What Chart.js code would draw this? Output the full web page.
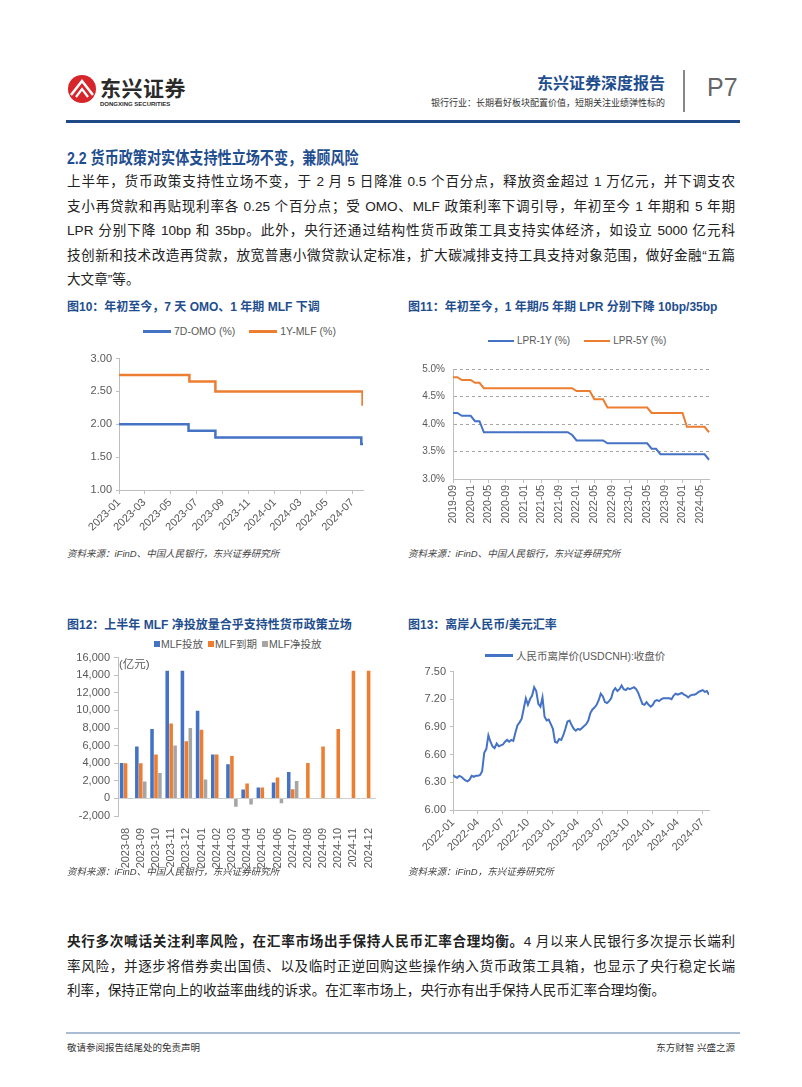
<!DOCTYPE html>
<html lang="zh-CN">
<head>
<meta charset="utf-8">
<script src="https://cdn.jsdelivr.net/npm/chart.js@4.4.0/dist/chart.umd.min.js"></script>
<style>
  body { margin:0; background:#fff; width:802px; height:1087px; position:relative; overflow:hidden;
         font-family:"Liberation Sans","Noto Sans CJK SC",sans-serif; color:#222; }
  .abs { position:absolute; white-space:nowrap; }
  .blue { color:#1f4e8f; }
  .ftitle { font-size:12px; font-weight:bold; color:#1f4e8f; }
  .src { font-size:9.5px; font-style:italic; color:#444; }
  .para { left:67px; width:668px; font-size:13.6px; line-height:24.5px; color:#222; }
  .para div { white-space:nowrap; }
  .jl { text-align:justify; text-align-last:justify; }
  .lg { font-size:10.5px; color:#595959; display:flex; align-items:center; }
  .ln { display:inline-block; width:28px; height:3px; margin-right:3px; }
  .sq { display:inline-block; width:6px; height:6px; margin-right:1px; }
  canvas { position:absolute; }
</style>
</head>
<body>

<!-- header -->
<svg class="abs" style="left:67px;top:74px" width="30" height="30" viewBox="0 0 30 30">
  <circle cx="15" cy="15" r="14" fill="#d7262b"/>
  <path d="M4 21 L15 7 L26 21" stroke="#fff" stroke-width="2.6" fill="none"/>
  <path d="M9 23 L15 15 L21 23" stroke="#fff" stroke-width="2.2" fill="none"/>
</svg>
<div class="abs" style="left:100px;top:72px;font-size:21px;font-weight:bold;color:#2a2a2a;letter-spacing:0.5px">东兴证券</div>
<div class="abs" style="left:100px;top:101px;font-size:6px;font-weight:bold;color:#2a2a2a">DONGXING SECURITIES</div>
<div class="abs blue" style="right:137px;top:70px;font-size:16px;font-weight:bold">东兴证券深度报告</div>
<div class="abs" style="right:137px;top:96px;font-size:9px;color:#333">银行行业：长期看好板块配置价值，短期关注业绩弹性标的</div>
<div class="abs" style="left:683px;top:70px;width:1.5px;height:42px;background:#888"></div>
<div class="abs" style="left:707px;top:73px;font-size:25px;color:#666">P7</div>
<div class="abs" style="left:66px;top:120px;width:674px;height:3px;background:#1f4a87"></div>

<!-- section -->
<div class="abs blue" style="left:67px;top:144px;font-size:17px;font-weight:bold;transform:scaleX(0.83);transform-origin:left top">2.2 货币政策对实体支持性立场不变，兼顾风险</div>
<div class="abs para" style="top:170px">
  <div class="jl">上半年，货币政策支持性立场不变，于 2 月 5 日降准 0.5 个百分点，释放资金超过 1 万亿元，并下调支农</div>
  <div class="jl">支小再贷款和再贴现利率各 0.25 个百分点；受 OMO、MLF 政策利率下调引导，年初至今 1 年期和 5 年期</div>
  <div class="jl">LPR 分别下降 10bp 和 35bp。此外，央行还通过结构性货币政策工具支持实体经济，如设立 5000 亿元科</div>
  <div class="jl">技创新和技术改造再贷款，放宽普惠小微贷款认定标准，扩大碳减排支持工具支持对象范围，做好金融“五篇</div>
  <div>大文章”等。</div>
</div>

<!-- chart titles row 1 -->
<div class="abs ftitle" style="left:67px;top:297px">图10：年初至今，7 天 OMO、1 年期 MLF 下调</div>
<div class="abs ftitle" style="left:408px;top:297px">图11：年初至今，1 年期/5 年期 LPR 分别下降 10bp/35bp</div>

<div class="abs lg" style="left:143px;top:325px"><span class="ln" style="background:#4472c4"></span>7D-OMO (%)<span class="ln" style="background:#ed7d31;margin-left:14px"></span>1Y-MLF (%)</div>
<div class="abs lg" style="left:488px;top:335px;font-size:10px"><span class="ln" style="background:#4472c4;height:2px;width:26px"></span>LPR-1Y (%)<span class="ln" style="background:#ed7d31;height:2px;width:26px;margin-left:14px"></span>LPR-5Y (%)</div>

<canvas id="c10" width="307" height="197" style="left:62px;top:348px"></canvas>
<canvas id="c11" width="315" height="170" style="left:400px;top:355px"></canvas>

<div class="abs src" style="left:67px;top:546px">资料来源：iFinD、中国人民银行，东兴证券研究所</div>
<div class="abs src" style="left:408px;top:546px">资料来源：iFinD、中国人民银行，东兴证券研究所</div>

<!-- chart titles row 2 -->
<div class="abs ftitle" style="left:67px;top:615px">图12：上半年 MLF 净投放量合乎支持性货币政策立场</div>
<div class="abs ftitle" style="left:408px;top:615px">图13：离岸人民币/美元汇率</div>

<div class="abs lg" style="left:154px;top:636px"><span class="sq" style="background:#4472c4"></span>MLF投放<span class="sq" style="background:#ed7d31;margin-left:5px"></span>MLF到期<span class="sq" style="background:#a5a5a5;margin-left:5px"></span>MLF净投放</div>
<div class="abs lg" style="left:485px;top:648px"><span class="ln" style="background:#4472c4;height:2.5px"></span>人民币离岸价(USDCNH):收盘价</div>

<canvas id="c12" width="324" height="225" style="left:62px;top:647px"></canvas>
<canvas id="c13" width="315" height="203" style="left:400px;top:661px"></canvas>
<div class="abs" style="left:119px;top:655px;font-size:11.5px;color:#595959">(亿元)</div>

<div class="abs src" style="left:67px;top:864px">资料来源：iFinD、中国人民银行，东兴证券研究所</div>
<div class="abs src" style="left:408px;top:864px">资料来源：iFinD，东兴证券研究所</div>

<!-- bottom paragraph -->
<div class="abs para" style="top:930px">
  <div class="jl"><b>央行多次喊话关注利率风险，在汇率市场出手保持人民币汇率合理均衡。</b>4 月以来人民银行多次提示长端利</div>
  <div class="jl">率风险，并逐步将借券卖出国债、以及临时正逆回购这些操作纳入货币政策工具箱，也显示了央行稳定长端</div>
  <div>利率，保持正常向上的收益率曲线的诉求。在汇率市场上，央行亦有出手保持人民币汇率合理均衡。</div>
</div>

<!-- footer -->
<div class="abs" style="left:66px;top:1032px;width:674px;height:2px;background:#a8bdd3"></div>
<div class="abs" style="left:67px;top:1040px;font-size:9.5px;color:#333">敬请参阅报告结尾处的免责声明</div>
<div class="abs" style="right:67px;top:1040px;font-size:9.5px;color:#333">东方财智 兴盛之源</div>

<script>
// ---- 图10: 7D OMO / 1Y MLF (%) ----
const omoDates = ['2023-01-01', '2023-06-13', '2023-08-15', '2024-07-22', '2024-07-26'];
const omoValues = [2.00, 1.90, 1.80, 1.70, 1.70];
const mlfDates = ['2023-01-01', '2023-06-15', '2023-08-15', '2024-07-25', '2024-07-26'];
const mlfValues = [2.75, 2.65, 2.50, 2.30, 2.30];
const fig10Ticks = ['2023-01', '2023-03', '2023-05', '2023-07', '2023-09', '2023-11', '2024-01', '2024-03', '2024-05', '2024-07'];

// ---- 图11: LPR monthly (%) ----
const lprStart = '2019-09', lprEnd = '2024-07';
const lpr1Y = [4.20, 4.20, 4.15, 4.15,
  4.15, 4.05, 4.05, 3.85, 3.85, 3.85, 3.85, 3.85, 3.85, 3.85, 3.85, 3.85,
  3.85, 3.85, 3.85, 3.85, 3.85, 3.85, 3.85, 3.85, 3.85, 3.85, 3.85, 3.80,
  3.70, 3.70, 3.70, 3.70, 3.70, 3.70, 3.70, 3.65, 3.65, 3.65, 3.65, 3.65,
  3.65, 3.65, 3.65, 3.65, 3.65, 3.55, 3.55, 3.45, 3.45, 3.45, 3.45, 3.45,
  3.45, 3.45, 3.45, 3.45, 3.45, 3.45, 3.35];
const lpr5Y = [4.85, 4.85, 4.80, 4.80,
  4.80, 4.75, 4.75, 4.65, 4.65, 4.65, 4.65, 4.65, 4.65, 4.65, 4.65, 4.65,
  4.65, 4.65, 4.65, 4.65, 4.65, 4.65, 4.65, 4.65, 4.65, 4.65, 4.65, 4.65,
  4.60, 4.60, 4.60, 4.60, 4.45, 4.45, 4.45, 4.30, 4.30, 4.30, 4.30, 4.30,
  4.30, 4.30, 4.30, 4.30, 4.30, 4.20, 4.20, 4.20, 4.20, 4.20, 4.20, 4.20,
  4.20, 3.95, 3.95, 3.95, 3.95, 3.95, 3.85];

// ---- 图12: MLF (亿元) ----
const mlfMonths = ['2023-08', '2023-09', '2023-10', '2023-11', '2023-12', '2024-01', '2024-02', '2024-03', '2024-04',
  '2024-05', '2024-06', '2024-07', '2024-08', '2024-09', '2024-10', '2024-11', '2024-12'];
const mlfInject = [4010, 5910, 7890, 14500, 14500, 9950, 5000, 3870, 1000, 1250, 1820, 3000, null, null, null, null, null];
const mlfMature = [4000, 4000, 5000, 8500, 6500, 7790, 4990, 4810, 1700, 1250, 2370, 1030, 4010, 5910, 7890, 14500, 14500];
const mlfNet = [10, 1910, 2890, 6000, 8000, 2160, 10, -940, -700, 0, -550, 1970, null, null, null, null, null];

// ---- 图13: USDCNH close, 4 readings per month ----
const fxStart = '2022-01';
const fxClose = [
  6.38, 6.36, 6.35, 6.37,  6.36, 6.34, 6.32, 6.31,  6.33, 6.37, 6.36, 6.37,  6.37, 6.38, 6.42, 6.62,
  6.66, 6.81, 6.74, 6.69,  6.67, 6.72, 6.69, 6.70,  6.71, 6.74, 6.76, 6.74,  6.76, 6.75, 6.84, 6.92,
  6.95, 6.99, 7.10, 7.21,  7.14, 7.20, 7.24, 7.33,  7.29, 7.15, 7.12, 7.22,  7.01, 6.97, 6.98, 6.93,
  6.88, 6.74, 6.73, 6.77,  6.76, 6.81, 6.88, 6.96,  6.97, 6.92, 6.88, 6.86,  6.88, 6.87, 6.89, 6.91,
  6.93, 6.97, 7.05, 7.09,  7.11, 7.14, 7.19, 7.26,  7.23, 7.17, 7.16, 7.18,  7.21, 7.29, 7.32, 7.29,
  7.31, 7.35, 7.31, 7.30,  7.32, 7.31, 7.32, 7.33,  7.31, 7.27, 7.21, 7.15,  7.14, 7.17, 7.14, 7.12,
  7.14, 7.18, 7.19, 7.18,  7.20, 7.21, 7.21, 7.21,  7.21, 7.20, 7.24, 7.26,  7.25, 7.26, 7.27, 7.25,
  7.24, 7.22, 7.24, 7.25,  7.25, 7.26, 7.28, 7.29,  7.30, 7.28, 7.29, 7.25];
const fxTicks = ['2022-01', '2022-04', '2022-07', '2022-10', '2023-01', '2023-04', '2023-07', '2023-10', '2024-01', '2024-04', '2024-07'];

// ---- helpers ----
const BLUE = '#4472c4', ORANGE = '#ed7d31', GREY = '#a5a5a5', AXIS = '#bfbfbf';
Chart.defaults.font.family = "'Liberation Sans','Noto Sans CJK SC',sans-serif";
Chart.defaults.font.size = 11;
Chart.defaults.color = '#595959';
Chart.defaults.animation = false;
Chart.defaults.plugins.legend.display = false;
Chart.defaults.plugins.tooltip.enabled = false;

const dayOf = s => {
  const [y, m, d] = s.split('-').map(Number);
  return (Date.UTC(y, m - 1, d || 1) - Date.UTC(2023, 0, 1)) / 864e5;
};
const monthOf = (s, base) => {
  const [y, m] = s.split('-').map(Number), [by, bm] = base.split('-').map(Number);
  return (y - by) * 12 + (m - bm);
};
const monthRange = (a, b) => {
  const out = [];
  for (let i = 0; i <= monthOf(b, a); i++) {
    const [y, m] = a.split('-').map(Number);
    const t = y * 12 + m - 1 + i;
    out.push(Math.floor(t / 12) + '-' + String(t % 12 + 1).padStart(2, '0'));
  }
  return out;
};
const lprMonths = monthRange(lprStart, lprEnd);

// 图10
new Chart(document.getElementById('c10'), {
  type: 'line',
  data: {
    datasets: [
      { label: '7D-OMO (%)', data: omoDates.map((d, i) => ({ x: dayOf(d), y: omoValues[i] })),
        borderColor: BLUE, borderWidth: 2.5, pointRadius: 0, stepped: true },
      { label: '1Y-MLF (%)', data: mlfDates.map((d, i) => ({ x: dayOf(d), y: mlfValues[i] })),
        borderColor: ORANGE, borderWidth: 2.5, pointRadius: 0, stepped: true }
    ]
  },
  options: {
    responsive: false,
    layout: { padding: { top: 0, right: 6, left: 0, bottom: 0 } },
    scales: {
      x: {
        type: 'linear', min: 0, max: dayOf('2024-07-26'),
        afterBuildTicks: a => { a.ticks = fig10Ticks.map(t => ({ value: dayOf(t) })); },
        ticks: { callback: (v, i) => fig10Ticks[i], minRotation: 45, maxRotation: 45, autoSkip: false, padding: 2 },
        grid: { drawOnChartArea: false, tickLength: 4, tickColor: AXIS },
        border: { color: AXIS },
        afterFit: s => { s.height = 55; }
      },
      y: {
        min: 1, max: 3,
        ticks: { stepSize: 0.5, callback: v => v.toFixed(2), padding: 4 },
        grid: { drawOnChartArea: false, tickLength: 3, tickColor: AXIS },
        border: { color: AXIS },
        afterFit: s => { s.width = 57; }
      }
    }
  }
});

// 图11
new Chart(document.getElementById('c11'), {
  type: 'line',
  data: {
    labels: lprMonths,
    datasets: [
      { label: 'LPR-1Y (%)', data: lpr1Y, borderColor: BLUE, borderWidth: 2, pointRadius: 0 },
      { label: 'LPR-5Y (%)', data: lpr5Y, borderColor: ORANGE, borderWidth: 2, pointRadius: 0 }
    ]
  },
  options: {
    responsive: false,
    layout: { padding: { top: 0, right: 6, left: 0, bottom: 0 } },
    scales: {
      x: {
        afterBuildTicks: a => { a.ticks = a.ticks.filter((t, i) => i % 4 === 0); },
        ticks: { minRotation: 90, maxRotation: 90, autoSkip: false, padding: 2, font: { size: 10.5 } },
        grid: { drawOnChartArea: false, tickLength: 4, tickColor: AXIS },
        border: { color: AXIS },
        afterFit: s => { s.height = 46; }
      },
      y: {
        min: 3, max: 5,
        ticks: { stepSize: 0.5, callback: v => v.toFixed(1) + '%', padding: 8, font: { size: 10 } },
        grid: { color: '#a6a6a6', drawTicks: false },
        border: { color: AXIS, dash: [3, 3] },
        afterFit: s => { s.width = 53; }
      }
    }
  }
});

// 图12
new Chart(document.getElementById('c12'), {
  type: 'bar',
  data: {
    labels: mlfMonths,
    datasets: [
      { label: 'MLF投放', data: mlfInject, backgroundColor: BLUE },
      { label: 'MLF到期', data: mlfMature, backgroundColor: ORANGE },
      { label: 'MLF净投放', data: mlfNet, backgroundColor: GREY }
    ]
  },
  options: {
    responsive: false,
    layout: { padding: { top: 0, right: 6, left: 0, bottom: 0 } },
    datasets: { bar: { categoryPercentage: 0.78, barPercentage: 0.9 } },
    scales: {
      x: {
        ticks: { minRotation: 90, maxRotation: 90, autoSkip: false, padding: 4 },
        grid: { display: false },
        border: { display: false },
        afterFit: s => { s.height = 56; }
      },
      y: {
        min: -2000, max: 16000,
        ticks: { stepSize: 2000, callback: v => v.toLocaleString('en-US'), padding: 4 },
        grid: { color: c => (c.tick && c.tick.value === 0 ? '#d0d0d0' : 'rgba(0,0,0,0)'), tickColor: AXIS, tickLength: 4 },
        border: { color: AXIS },
        afterFit: s => { s.width = 56; }
      }
    }
  }
});

// 图13
new Chart(document.getElementById('c13'), {
  type: 'line',
  data: {
    datasets: [
      { label: '人民币离岸价(USDCNH):收盘价',
        data: fxClose.map((v, i) => ({ x: i / 4, y: v })),
        borderColor: BLUE, borderWidth: 2, pointRadius: 0, tension: 0 }
    ]
  },
  options: {
    responsive: false,
    layout: { padding: { top: 0, right: 6, left: 0, bottom: 0 } },
    scales: {
      x: {
        type: 'linear', min: 0, max: (fxClose.length - 1) / 4,
        afterBuildTicks: a => { a.ticks = fxTicks.map(t => ({ value: monthOf(t, fxStart) })); },
        ticks: { callback: (v, i) => fxTicks[i], minRotation: 45, maxRotation: 45, autoSkip: false, padding: 2 },
        grid: { drawOnChartArea: false, tickLength: 4, tickColor: AXIS },
        border: { color: AXIS },
        afterFit: s => { s.height = 54; }
      },
      y: {
        min: 6, max: 7.5,
        afterBuildTicks: a => { a.ticks = [6.0, 6.3, 6.6, 6.9, 7.2, 7.5].map(v => ({ value: v })); },
        ticks: { callback: v => v.toFixed(2), padding: 4 },
        grid: { drawOnChartArea: false, tickLength: 3, tickColor: AXIS },
        border: { color: AXIS },
        afterFit: s => { s.width = 53; }
      }
    }
  }
});
</script>
</body>
</html>
